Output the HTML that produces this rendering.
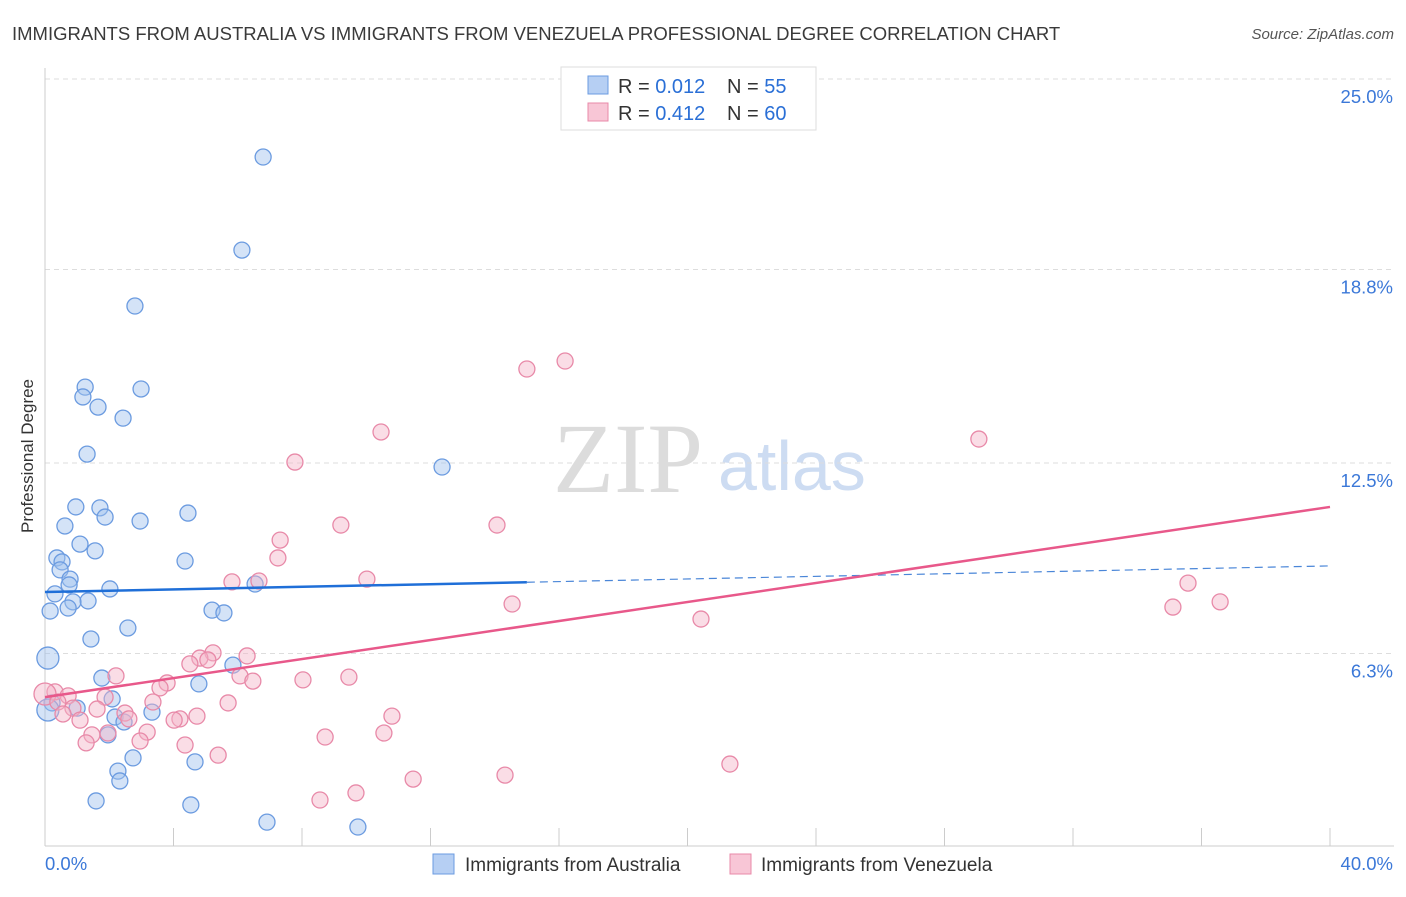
<!DOCTYPE html>
<html><head><meta charset="utf-8"><style>
body{margin:0;background:#fff;font-family:"Liberation Sans",sans-serif;}
</style></head><body>
<svg id="chart" width="1406" height="892" font-family="Liberation Sans, sans-serif">
<text x="12" y="40" font-size="18.5" fill="#3a3a3a">IMMIGRANTS FROM AUSTRALIA VS IMMIGRANTS FROM VENEZUELA PROFESSIONAL DEGREE CORRELATION CHART</text>
<text x="1394" y="39" font-size="15" fill="#555" font-style="italic" text-anchor="end">Source: ZipAtlas.com</text>
<text transform="translate(33,456) rotate(-90)" font-size="17" fill="#333" text-anchor="middle">Professional Degree</text>
<g><text x="553" y="492" style="font-family:'Liberation Serif',serif" font-size="100" fill="#dcdcdc">ZIP</text><text x="718" y="490" font-size="70" fill="#cddcf2">atlas</text></g>
<g id="grid"></g><g id="marks"></g>
<g>
<rect x="561" y="67" width="255" height="63" fill="#fff" stroke="#ddd"/>
<rect x="588" y="76" width="20" height="18" fill="#b6cff3" stroke="#6b9be0"/>
<rect x="588" y="103" width="20" height="18" fill="#f8c6d6" stroke="#e889a8"/>
<text x="618" y="93" font-size="20" fill="#333">R = <tspan fill="#2a6fd6">0.012</tspan></text>
<text x="727" y="93" font-size="20" fill="#333">N = <tspan fill="#2a6fd6">55</tspan></text>
<text x="618" y="120" font-size="20" fill="#333">R = <tspan fill="#2a6fd6">0.412</tspan></text>
<text x="727" y="120" font-size="20" fill="#333">N = <tspan fill="#2a6fd6">60</tspan></text>
</g>
<g>
<rect x="433" y="854" width="21" height="20" fill="#b6cff3" stroke="#6b9be0"/>
<text x="465" y="871" font-size="19" fill="#333">Immigrants from Australia</text>
<rect x="730" y="854" width="21" height="20" fill="#f8c6d6" stroke="#e889a8"/>
<text x="761" y="871" font-size="19" fill="#333">Immigrants from Venezuela</text>
</g>
</svg>
<script>
const yTicks=[25.0,18.8,12.5,6.3];
const yTickLabels=["25.0%","18.8%","12.5%","6.3%"];
const xTickLabels=["0.0%","40.0%"];
const blueX=[6.79,6.13,2.80,1.25,2.99,1.18,1.65,2.43,1.31,12.36,0.96,1.71,1.87,2.96,4.45,0.62,1.09,1.56,0.37,0.53,0.47,4.36,0.78,0.75,2.02,6.54,0.31,1.34,0.87,0.72,0.16,5.20,5.57,2.58,1.43,0.09,5.85,1.77,4.79,2.09,0.22,1.00,3.33,2.18,2.46,0.09,1.96,2.74,4.67,2.27,2.33,1.59,4.54,6.91,9.74];
const blueY=[22.46,19.43,17.61,14.97,14.91,14.65,14.32,13.96,12.79,12.37,11.07,11.04,10.74,10.61,10.87,10.45,9.86,9.64,9.41,9.28,9.02,9.31,8.72,8.53,8.40,8.56,8.24,8.01,7.98,7.78,7.68,7.71,7.62,7.13,6.77,6.15,5.92,5.50,5.31,4.82,4.69,4.52,4.39,4.23,4.07,4.46,3.65,2.90,2.77,2.47,2.15,1.50,1.37,0.81,0.65];
const pinkX=[16.19,15.0,10.46,29.07,7.78,14.07,9.21,7.32,7.25,35.58,10.02,5.82,6.66,14.54,35.11,36.58,20.42,5.23,6.29,4.82,5.07,4.51,2.21,6.07,6.47,8.03,9.46,3.80,3.58,0.31,0.72,0,1.87,3.36,5.70,0.40,0.87,1.62,2.49,2.61,4.73,4.20,4.02,10.80,1.09,0.56,3.18,1.46,1.96,10.55,8.72,1.28,2.96,4.36,5.39,21.32,14.32,11.46,9.68,8.56];
const pinkY=[15.82,15.56,13.51,13.28,12.53,10.48,10.48,9.99,9.41,8.59,8.72,8.63,8.66,7.91,7.81,7.98,7.42,6.32,6.22,6.15,6.09,5.96,5.57,5.57,5.40,5.44,5.53,5.34,5.18,5.05,4.92,4.98,4.88,4.72,4.69,4.72,4.52,4.49,4.36,4.17,4.26,4.17,4.13,4.26,4.13,4.33,3.74,3.65,3.71,3.71,3.58,3.39,3.45,3.32,2.99,2.70,2.34,2.21,1.76,1.53];
const blueLine=[8.3,9.15]; const pinkLine=[4.88,11.07]; const blueSolidEnd=15.0;
const X=v=>45+v*32.125, Y=v=>847-v*30.72;
const NS="http://www.w3.org/2000/svg";
function mk(p,t,a){const e=document.createElementNS(NS,t);for(const k in a)e.setAttribute(k,a[k]);p.appendChild(e);return e;}
const g=document.getElementById('grid'), m=document.getElementById('marks');
yTicks.forEach((t,i)=>{
 const l=mk(g,'line',{x1:45,x2:1394,y1:Y(t),y2:Y(t),stroke:'#ddd','stroke-dasharray':'5,4'});
 
 
 const tx=mk(g,'text',{x:1393,y:Y(t)+24,'font-size':18.5,fill:'#3b78d8','text-anchor':'end'});tx.textContent=yTickLabels[i];
 
 
});
mk(g,'line',{x1:45,x2:45,y1:68,y2:846,stroke:'#ccc'});
mk(g,'line',{x1:45,x2:1394,y1:846,y2:846,stroke:'#ccc'});
for(let i=0;i<=10;i++){mk(g,'line',{x1:X(i*4),x2:X(i*4),y1:828,y2:846,stroke:'#ccc'});}
[[0,45,'start'],[40,1393,'end']].forEach((d,i)=>{const t=mk(g,'text',{x:d[1],y:870,'font-size':18.5,fill:'#3b78d8','text-anchor':d[2]});t.textContent=xTickLabels[i];
 
 });
const big=new Set(['b35','b45','p31']);
blueX.forEach((x,i)=>{const c=mk(m,'circle',{cx:X(x),cy:Y(blueY[i]),r:big.has('b'+i)?11:8,fill:'rgba(160,192,238,0.45)',stroke:'#6b9be0','stroke-width':1.3});
 
 });
pinkX.forEach((x,i)=>{const c=mk(m,'circle',{cx:X(x),cy:Y(pinkY[i]),r:big.has('p'+i)?11:8,fill:'rgba(245,180,200,0.45)',stroke:'#e889a8','stroke-width':1.3});
 
 });
const by=x=>blueLine[0]+(blueLine[1]-blueLine[0])*x/40;
let l=mk(m,'line',{x1:X(0),y1:Y(by(0)),x2:X(blueSolidEnd),y2:Y(by(blueSolidEnd)),stroke:'#1f6fd8','stroke-width':2.5});


l=mk(m,'line',{x1:X(blueSolidEnd),y1:Y(by(blueSolidEnd)),x2:X(40),y2:Y(by(40)),stroke:'#4a86d8','stroke-width':1.2,'stroke-dasharray':'8,5'});


l=mk(m,'line',{x1:X(0),y1:Y(pinkLine[0]),x2:X(40),y2:Y(pinkLine[1]),stroke:'#e8588a','stroke-width':2.5});


</script>
</body></html>
